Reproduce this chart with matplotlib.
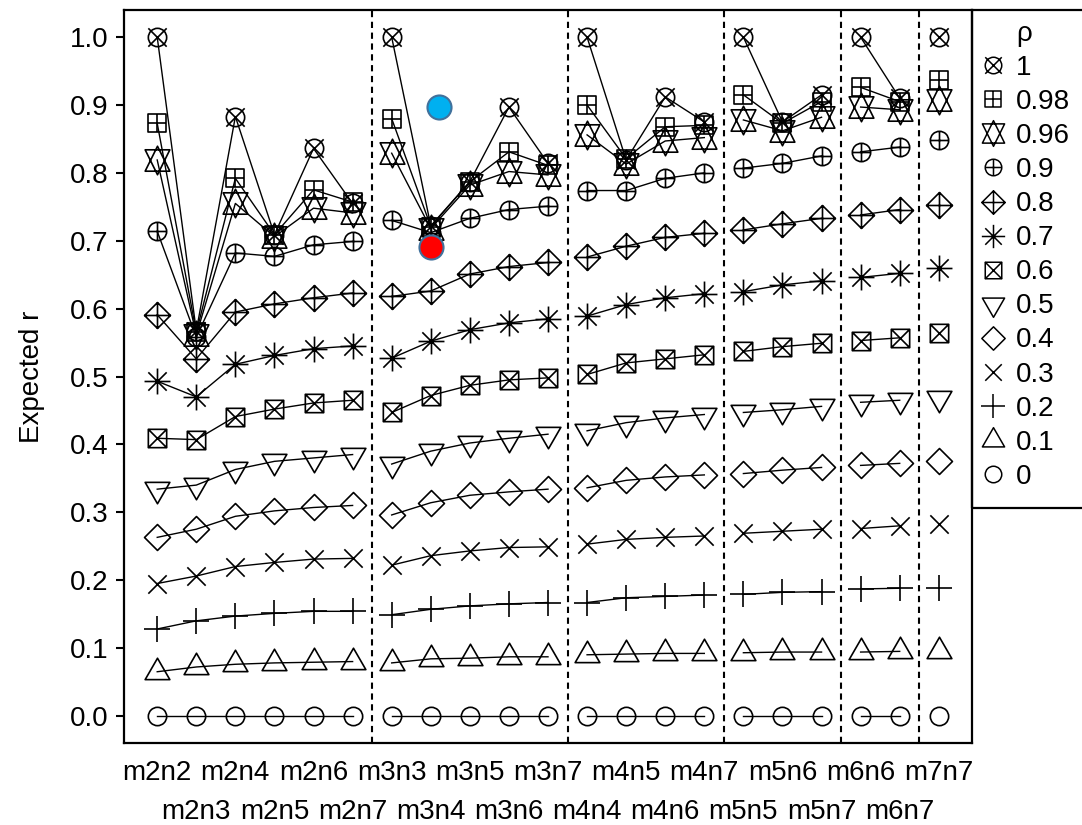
import numpy as np
import matplotlib
matplotlib.use("Agg")
import matplotlib.pyplot as plt
from matplotlib.path import Path
from matplotlib.lines import Line2D
from matplotlib.patches import Rectangle

plt.rcParams['font.family'] = ['Liberation Sans', 'DejaVu Sans']

# categories (m, n design cells)
cats = ['m2n2', 'm2n3', 'm2n4', 'm2n5', 'm2n6', 'm2n7',
        'm3n3', 'm3n4', 'm3n5', 'm3n6', 'm3n7',
        'm4n4', 'm4n5', 'm4n6', 'm4n7',
        'm5n5', 'm5n6', 'm5n7',
        'm6n6', 'm6n7',
        'm7n7']

rho_labels = ['1', '0.98', '0.96', '0.9', '0.8', '0.7', '0.6', '0.5', '0.4', '0.3', '0.2', '0.1', '0']

r_100 = [1.000, 0.567, 0.883, 0.709, 0.836, 0.755, 1.000, 0.722, 0.787, 0.897, 0.814,
         1.000, 0.819, 0.912, 0.875, 1.000, 0.875, 0.915, 1.000, 0.910, 1.000]
r_098 = [0.873, 0.565, 0.792, 0.709, 0.775, 0.757, 0.880, 0.721, 0.787, 0.831, 0.811,
         0.900, 0.821, 0.868, 0.870, 0.915, 0.873, 0.905, 0.926, 0.905, 0.937]
r_096 = [0.819, 0.561, 0.755, 0.706, 0.748, 0.741, 0.829, 0.718, 0.782, 0.802, 0.797,
         0.856, 0.813, 0.847, 0.852, 0.878, 0.862, 0.882, 0.897, 0.893, 0.908]
r_090 = [0.714, 0.558, 0.682, 0.677, 0.694, 0.699, 0.730, 0.712, 0.733, 0.746, 0.751,
         0.774, 0.774, 0.792, 0.800, 0.807, 0.814, 0.825, 0.831, 0.838, 0.848]
r_080 = [0.591, 0.526, 0.595, 0.607, 0.616, 0.623, 0.618, 0.626, 0.651, 0.662, 0.668,
         0.676, 0.692, 0.705, 0.711, 0.716, 0.725, 0.733, 0.738, 0.746, 0.753]
r_070 = [0.493, 0.470, 0.518, 0.531, 0.541, 0.545, 0.527, 0.552, 0.569, 0.579, 0.585,
         0.589, 0.606, 0.616, 0.622, 0.625, 0.635, 0.641, 0.646, 0.652, 0.660]
r_060 = [0.409, 0.407, 0.441, 0.452, 0.461, 0.465, 0.447, 0.472, 0.487, 0.495, 0.498,
         0.503, 0.520, 0.526, 0.532, 0.537, 0.544, 0.549, 0.553, 0.557, 0.564]
r_050 = [0.334, 0.340, 0.363, 0.375, 0.380, 0.385, 0.371, 0.390, 0.402, 0.409, 0.415,
         0.420, 0.432, 0.439, 0.444, 0.447, 0.451, 0.456, 0.462, 0.465, 0.469]
r_040 = [0.263, 0.275, 0.294, 0.302, 0.307, 0.310, 0.296, 0.314, 0.325, 0.330, 0.334,
         0.336, 0.347, 0.352, 0.355, 0.357, 0.362, 0.366, 0.369, 0.372, 0.375]
r_030 = [0.195, 0.206, 0.220, 0.226, 0.231, 0.232, 0.222, 0.236, 0.243, 0.248, 0.249,
         0.253, 0.260, 0.263, 0.265, 0.269, 0.272, 0.275, 0.276, 0.280, 0.283]
r_020 = [0.128, 0.140, 0.147, 0.151, 0.154, 0.154, 0.149, 0.157, 0.162, 0.165, 0.167,
         0.167, 0.174, 0.176, 0.178, 0.179, 0.182, 0.183, 0.187, 0.188, 0.188]
r_010 = [0.065, 0.072, 0.076, 0.078, 0.079, 0.080, 0.078, 0.084, 0.085, 0.087, 0.087,
         0.090, 0.091, 0.092, 0.092, 0.093, 0.094, 0.094, 0.094, 0.095, 0.096]
r_000 = [0.0, 0.0, 0.0, 0.0, 0.0, 0.0, 0.0, 0.0, 0.0, 0.0, 0.0,
         0.0, 0.0, 0.0, 0.0, 0.0, 0.0, 0.0, 0.0, 0.0, 0.0]

series = [r_100, r_098, r_096, r_090, r_080, r_070, r_060, r_050, r_040, r_030, r_020, r_010, r_000]

# two highlighted points (blue and red dots)
blue_pt = (7.2, 0.897)
red_pt = (7.0, 0.691)


# --- R style pch symbols as matplotlib paths (radius unit = 1) ---
M, L, C = Path.MOVETO, Path.LINETO, Path.CLOSEPOLY

def poly(pts):
    return Path(pts + [pts[0]], [M] + [L] * (len(pts) - 1) + [C])

def segs(lines):
    v, c = [], []
    for a, b in lines:
        v += [a, b]
        c += [M, L]
    return Path(v, c)

circle = Path.unit_circle()
s2 = np.sqrt(2)
tr0, tr1, tr2 = 1.5551, 1.3468, 0.7776
tri_up = poly([(0, tr0), (tr1, -tr2), (-tr1, -tr2)])
tri_dn = poly([(0, -tr0), (tr1, tr2), (-tr1, tr2)])
square = poly([(-1, -1), (1, -1), (1, 1), (-1, 1)])
diamond = poly([(0, s2), (s2, 0), (0, -s2), (-s2, 0)])
times1 = segs([((-1, -1), (1, 1)), ((-1, 1), (1, -1))])
plus1 = segs([((-1, 0), (1, 0)), ((0, -1), (0, 1))])
plus2 = segs([((-s2, 0), (s2, 0)), ((0, -s2), (0, s2))])
# pch 11: triangles up and down superimposed
yc = 0.5 * (tr2 + tr0)
d1 = poly([(0, tr0), (tr1, -yc), (-tr1, -yc)])
d2 = poly([(0, -tr0), (tr1, yc), (-tr1, yc)])

cp = Path.make_compound_path
markers = [
    cp(circle, times1),    # 1
    cp(square, plus1),     # 0.98
    cp(d1, d2),            # 0.96
    cp(circle, plus1),     # 0.9
    cp(diamond, plus2),    # 0.8
    cp(plus2, times1),     # 0.7
    cp(square, times1),    # 0.6
    tri_dn,                # 0.5
    diamond,               # 0.4
    times1,                # 0.3
    plus2,                 # 0.2
    tri_up,                # 0.1
    circle,                # 0
]

R = 6.6  # symbol radius in points

def msize(p):
    return 2 * np.max(np.abs(p.vertices)) * R

fig = plt.figure(figsize=(10.82, 8.25), dpi=100)
ax = fig.add_axes([124 / 1082, 82 / 825, (972 - 124) / 1082, (743 - 10) / 825])

x = np.arange(len(cats))
grp = np.array([c[1] for c in cats])

for vals, mk in zip(series, markers):
    vals = np.array(vals)
    for g in np.unique(grp):
        idx = grp == g
        ax.plot(x[idx], vals[idx], color='black', lw=1.0, marker=mk, ms=msize(mk),
                mfc='none', mec='black', mew=1.2)

ax.scatter([blue_pt[0]], [blue_pt[1]], s=300, color='#00b0f0', edgecolors='#41719c', linewidths=1.5, zorder=5)
ax.scatter([red_pt[0]], [red_pt[1]], s=300, color='#ff0000', edgecolors='#41719c', linewidths=1.5, zorder=5)

# group separators
bounds = [i + 0.5 for i in range(len(cats) - 1) if grp[i] != grp[i + 1]]
for b in bounds:
    ax.axvline(b, color='black', lw=1.5, ls=(0, (3, 2.2)))

ax.set_xlim(-0.85, 20.85)
ax.set_ylim(-0.04, 1.04)
ax.set_yticks(np.arange(0, 1.01, 0.1))
ax.set_yticklabels(['%.1f' % v for v in np.arange(0, 1.01, 0.1)], fontsize=20)
ax.tick_params(axis='y', length=6, width=1.5, pad=5)

ax.set_xticks(x[::2])
ax.set_xticklabels(cats[::2], fontsize=20)
ax.set_xticks(x[1::2], minor=True)
ax.set_xticklabels(cats[1::2], minor=True, fontsize=20)
ax.tick_params(axis='x', which='major', length=0, pad=12)
ax.tick_params(axis='x', which='minor', length=0, pad=40)

ax.set_ylabel('Expected r', fontsize=20, labelpad=18)
for sp in ax.spines.values():
    sp.set_linewidth(1.6)

# legend
handles = [Line2D([], [], ls='none', marker=mk, ms=msize(mk) * 0.9, mfc='none', mec='black', mew=1.1)
           for mk in markers]
leg = fig.legend(handles, rho_labels, title='\u03c1', loc='upper left',
                 bbox_to_anchor=(978 / 1082, 1 - 21 / 825), frameon=False,
                 fontsize=20, title_fontsize=20, handlelength=1.1, handletextpad=0.25,
                 labelspacing=0.29, borderpad=0, borderaxespad=0)
fig.patches.append(Rectangle((972 / 1082, 1 - 508 / 825), 0.2, (508 - 10) / 825,
                             transform=fig.transFigure, fill=False, lw=1.6, ec='black'))

fig.savefig('out.png', dpi=100)
